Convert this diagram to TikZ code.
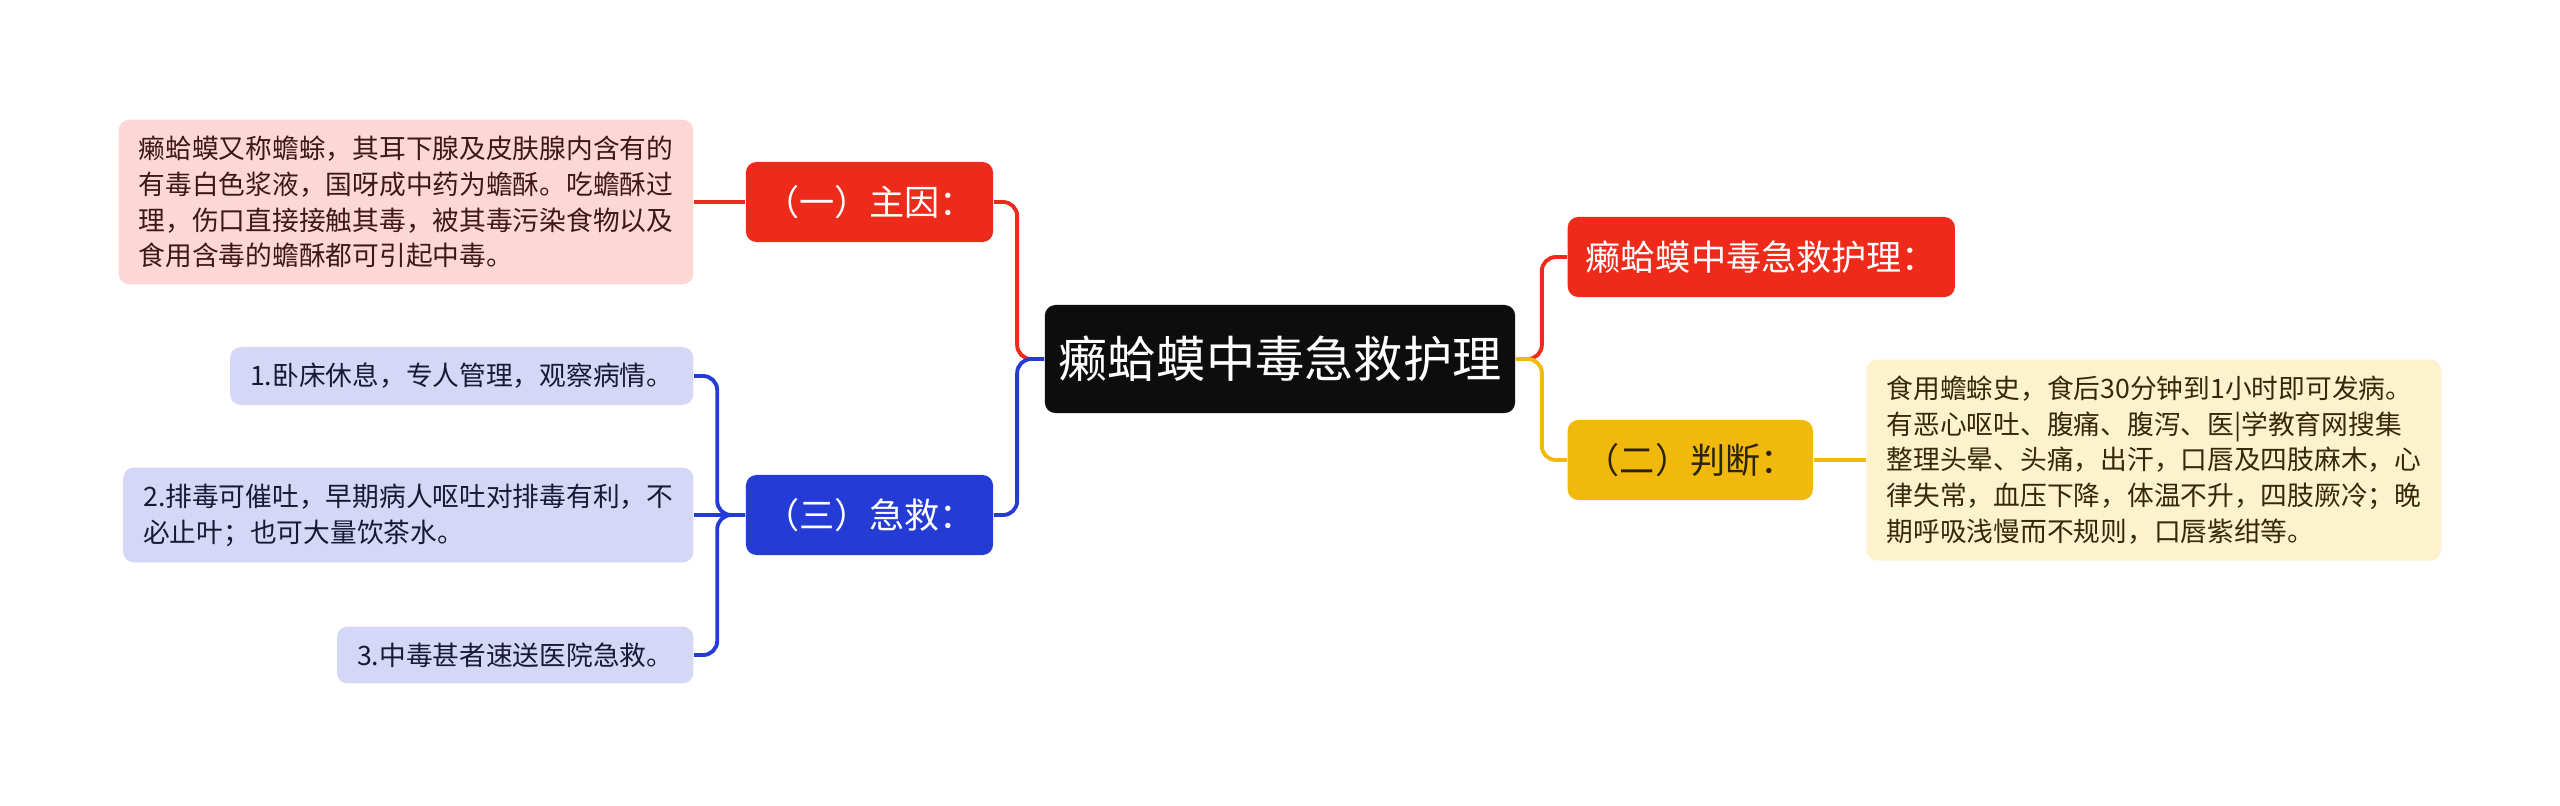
\documentclass[tikz,border=0pt]{standalone}
\usepackage{fontspec}
\setmainfont{Noto Sans CJK SC}
\usepackage{tikz}
\usetikzlibrary{positioning}

\definecolor{mainred}{RGB}{238,42,26}
\definecolor{mainblue}{RGB}{36,59,214}
\definecolor{mainyellow}{RGB}{240,185,12}
\definecolor{rootblack}{RGB}{13,13,13}
\definecolor{pinkleaf}{RGB}{253,215,211}
\definecolor{blueleaf}{RGB}{212,216,246}
\definecolor{creamleaf}{RGB}{253,242,206}

\begin{document}
\begin{tikzpicture}[x=0.01cm, y=-0.01cm,
        root/.style={rectangle, rounded corners=3pt, fill=rootblack, text=white, inner xsep=2pt, minimum width=4.7cm, minimum height=1.08cm, font=\fontsize{14}{17}\selectfont},
        branch/.style={rectangle, rounded corners=3pt, minimum height=0.8cm, font=\fontsize{10}{12}\selectfont},
        leaf/.style={rectangle, rounded corners=3pt, align=left, inner xsep=0.2cm, inner ysep=0.16cm, font=\fontsize{7.6}{10.2}\selectfont},
        link/.style={line width=1.1pt, rounded corners=4pt}]

        \useasboundingbox (0,0) rectangle (2560,805);

        % Root
        \node[root] (root) at (1280, 359) {癞蛤蟆中毒急救护理};

        % Left side
        \node[branch, fill=mainred, text=white, minimum width=2.47cm] (cause) at (869.5, 202) {（一）主因：};
        \node[branch, fill=mainblue, text=white, minimum width=2.47cm] (aid) at (869.5, 515) {（三）急救：};

        \node[leaf, fill=pinkleaf, text={rgb,255:red,60;green,25;blue,25}, anchor=east] (causetxt) at (694, 202)
            {癞蛤蟆又称蟾蜍，其耳下腺及皮肤腺内含有的\\有毒白色浆液，国呀成中药为蟾酥。吃蟾酥过\\理，伤口直接接触其毒，被其毒污染食物以及\\食用含毒的蟾酥都可引起中毒。};

        \node[leaf, fill=blueleaf, text={rgb,255:red,25;green,25;blue,55}, anchor=east] (aid1) at (694, 376) {1.卧床休息，专人管理，观察病情。};
        \node[leaf, fill=blueleaf, text={rgb,255:red,25;green,25;blue,55}, anchor=east] (aid2) at (694, 515)
            {2.排毒可催吐，早期病人呕吐对排毒有利，不\\必止叶；也可大量饮茶水。};
        \node[leaf, fill=blueleaf, text={rgb,255:red,25;green,25;blue,55}, anchor=east] (aid3) at (694, 655) {3.中毒甚者速送医院急救。};

        \draw[link, mainred] (root.west) -- ++(-27,0) |- (cause.east);
        \draw[link, mainblue] (root.west) -- ++(-27,0) |- (aid.east);
        \draw[link, mainred] (cause.west) -- (causetxt.east);
        \draw[link, mainblue] (aid.west) -- ++(-28,0) |- (aid1.east);
        \draw[link, mainblue] (aid.west) -- (aid2.east);
        \draw[link, mainblue] (aid.west) -- ++(-28,0) |- (aid3.east);

        % Right side
        \node[branch, fill=mainred, text=white, minimum width=3.87cm, anchor=west] (care) at (1567, 257) {癞蛤蟆中毒急救护理：};
        \node[branch, fill=mainyellow, text={rgb,255:red,45;green,35;blue,10}, minimum width=2.45cm, anchor=west] (judge) at (1567, 460) {（二）判断：};

        \node[leaf, fill=creamleaf, text={rgb,255:red,55;green,40;blue,10}, anchor=west] (judgetxt) at (1866, 460)
            {食用蟾蜍史，食后30分钟到1小时即可发病。\\有恶心呕吐、腹痛、腹泻、医|学教育网搜集\\整理头晕、头痛，出汗，口唇及四肢麻木，心\\律失常，血压下降，体温不升，四肢厥冷；晚\\期呼吸浅慢而不规则，口唇紫绀等。};

        \draw[link, mainred] (root.east) -- ++(26,0) |- (care.west);
        \draw[link, mainyellow] (root.east) -- ++(26,0) |- (judge.west);
        \draw[link, mainyellow] (judge.east) -- (judgetxt.west);
    \end{tikzpicture}
\end{document}
